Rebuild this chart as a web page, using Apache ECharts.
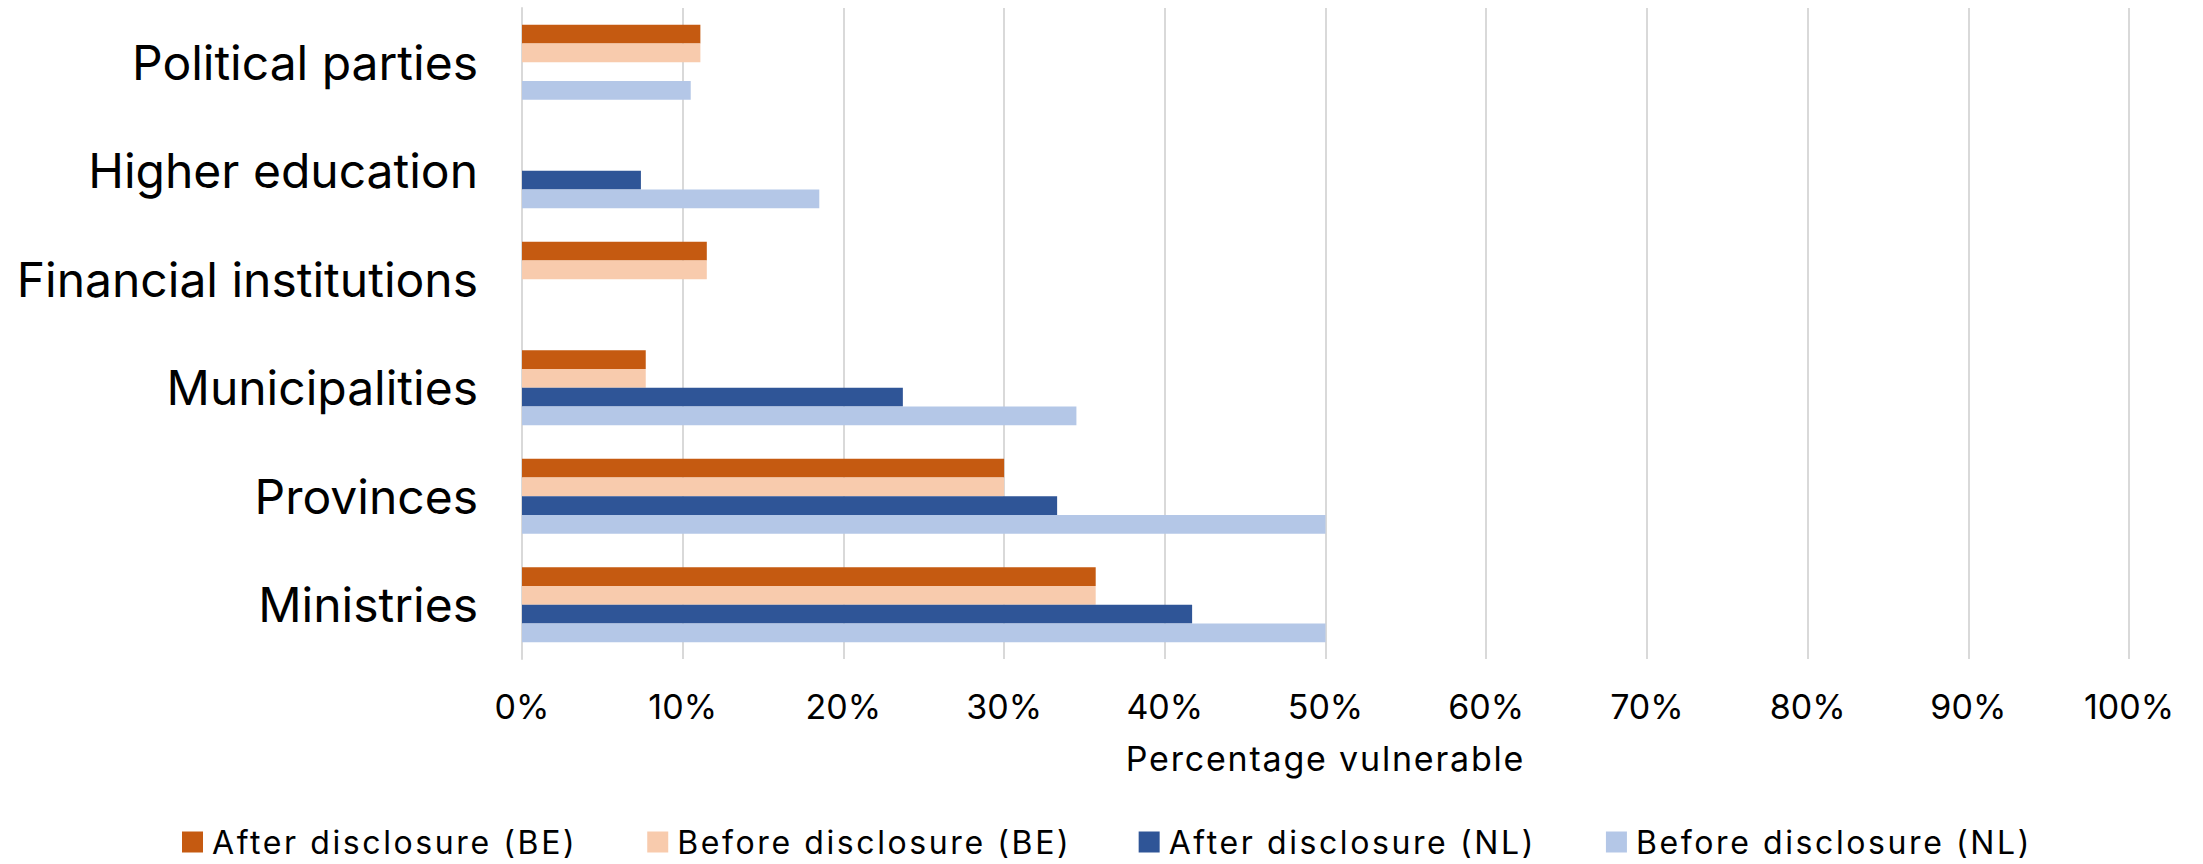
<!DOCTYPE html>
<html>
<head>
<meta charset="utf-8">
<script src="https://cdn.jsdelivr.net/npm/echarts@6/dist/echarts.min.js"></script>
<style>
html,body{margin:0;padding:0;background:#fff;}
#chart{width:2203px;height:864px;}
</style>
</head>
<body>
<div id="chart"></div>
<script>
// Categories listed top to bottom
const categories = ['Political parties', 'Higher education', 'Financial institutions', 'Municipalities', 'Provinces', 'Ministries'];
const afterBE  = [11.1, null, 11.5, 7.7, 30.0, 35.7];
const beforeBE = [11.1, null, 11.5, 7.7, 30.0, 35.7];
const afterNL  = [null, 7.4, null, 23.7, 33.3, 41.7];
const beforeNL = [10.5, 18.5, null, 34.5, 50.0, 50.0];
const seriesNames = ['After disclosure (BE)', 'Before disclosure (BE)', 'After disclosure (NL)', 'Before disclosure (NL)'];
const xTicks = [0, 10, 20, 30, 40, 50, 60, 70, 80, 90, 100];
const axisTitle = 'Percentage vulnerable';

const colors = ['#C55A11', '#F8CBAD', '#2F5597', '#B4C7E7'];
const seriesData = [afterBE, beforeBE, afterNL, beforeNL];
const FONT = 'Inter, "Noto Sans", sans-serif';
const LEGEND_SPACING = 2.6;
const TITLE_SPACING = 1.8;

const chart = echarts.init(document.getElementById('chart'), null, { renderer: 'svg' });
chart.setOption({
  backgroundColor: '#fff',
  animation: false,
  textStyle: { fontFamily: FONT, color: '#000' },
  grid: { left: 522, right: 74, top: 8, bottom: 205, containLabel: false },
  legend: {
    data: seriesNames,
    top: 826,
    left: 182,
    padding: 0,
    itemWidth: 21,
    itemHeight: 21,
    itemGap: 70 + 21 * LEGEND_SPACING,
    icon: 'rect',
    textStyle: { fontFamily: FONT, fontSize: 32, color: '#000', padding: [0, 0, 0, 4] }
  },
  xAxis: {
    type: 'value',
    min: xTicks[0],
    max: xTicks[xTicks.length - 1],
    interval: 10,
    name: axisTitle,
    nameLocation: 'middle',
    nameGap: 82,
    nameTextStyle: { fontFamily: FONT, fontSize: 34, color: '#000', verticalAlign: 'top' },
    axisLine: { show: false },
    axisTick: { show: false },
    axisLabel: { formatter: '{value}%', fontFamily: FONT, fontSize: 34, color: '#000', margin: 30 },
    splitLine: { show: true, lineStyle: { color: '#D9D9D9', width: 2 } }
  },
  yAxis: {
    type: 'category',
    data: categories,
    inverse: true,
    axisLine: { show: true, lineStyle: { color: '#D9D9D9', width: 2 } },
    axisTick: { show: false },
    axisLabel: { fontFamily: FONT, fontSize: 48, color: '#000', margin: 44, padding: [0, 0, 6, 0] }
  },
  series: seriesNames.map((n, i) => ({
    name: n,
    type: 'bar',
    data: seriesData[i],
    barGap: '0%',
    barCategoryGap: '31%',
    itemStyle: { color: colors[i] }
  }))
});

function applySpacing() {
  document.querySelectorAll('#chart svg text').forEach(t => {
    const s = t.textContent;
    if (seriesNames.indexOf(s) >= 0) t.style.letterSpacing = LEGEND_SPACING + 'px';
    else if (s === axisTitle) t.style.letterSpacing = TITLE_SPACING + 'px';
  });
}
chart.on('finished', applySpacing);
applySpacing();
setTimeout(applySpacing, 0);
</script>
</body>
</html>
